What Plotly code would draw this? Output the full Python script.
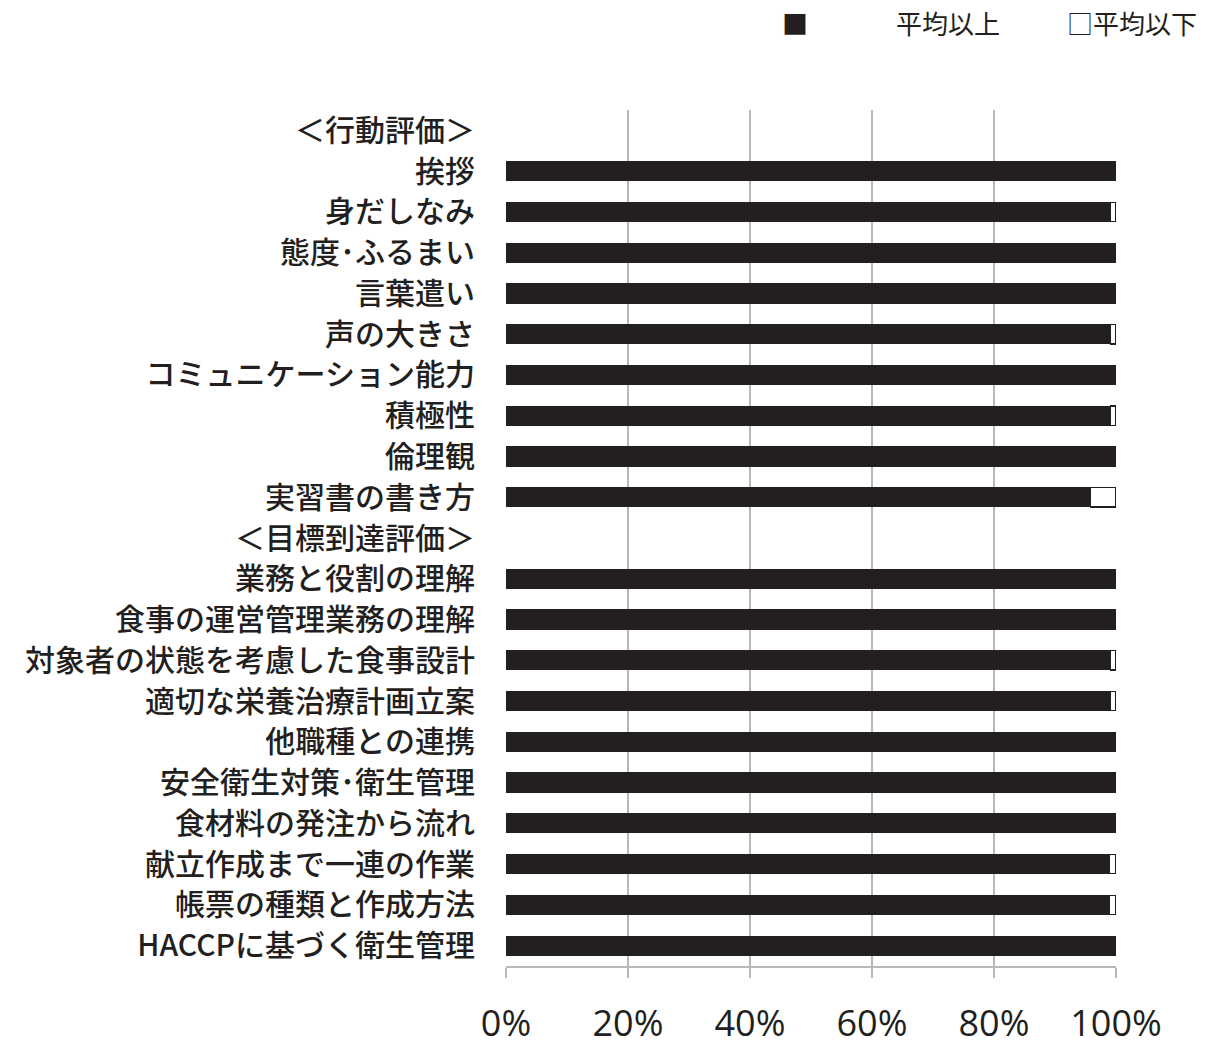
import plotly.graph_objects as go

categories = [
    "＜行動評価＞", "挨拶", "身だしなみ", "態度･ふるまい", "言葉遣い", "声の大きさ",
    "コミュニケーション能力", "積極性", "倫理観", "実習書の書き方",
    "＜目標到達評価＞", "業務と役割の理解", "食事の運営管理業務の理解",
    "対象者の状態を考慮した食事設計", "適切な栄養治療計画立案", "他職種との連携",
    "安全衛生対策･衛生管理", "食材料の発注から流れ", "献立作成まで一連の作業",
    "帳票の種類と作成方法", "HACCPに基づく衛生管理",
]
above = [None, 100, 99.1, 100, 100, 99.1, 100, 99.1, 100, 95.8,
         None, 100, 100, 99.1, 99.1, 100, 100, 100, 98.9, 98.9, 100]
below = [None, 0, 0.9, 0, 0, 0.9, 0, 0.9, 0, 4.2,
         None, 0, 0, 0.9, 0.9, 0, 0, 0, 1.1, 1.1, 0]
tick_vals = [0, 20, 40, 60, 80, 100]
tick_text = ["0%", "20%", "40%", "60%", "80%", "100%"]
legend_names = ["平均以上", "平均以下"]

fig = go.Figure()
fig.add_trace(go.Bar(
    y=categories, x=[v / 100 if v is not None else None for v in above],
    orientation="h", name=legend_names[0],
    marker=dict(color="#231f20", line=dict(color="#231f20", width=1)),
    showlegend=False,
))
fig.add_trace(go.Bar(
    y=categories, x=[(v / 100) if v else None for v in below],
    orientation="h", name=legend_names[1],
    marker=dict(color="white", line=dict(color="#231f20", width=1.5)),
    showlegend=False,
))

fig.update_layout(
    barmode="stack",
    bargap=0.53,
    width=1210, height=1047,
    margin=dict(l=506, r=94, t=110, b=81),
    paper_bgcolor="white", plot_bgcolor="white",
    font=dict(family="Noto Sans CJK JP", color="#231f20"),
    xaxis=dict(
        range=[0, 1], tickvals=[t / 100 for t in tick_vals], ticktext=tick_text,
        showgrid=True, gridcolor="#b8b8b8", gridwidth=2,
        showline=True, linecolor="#b8b8b8", linewidth=2,
        ticks="outside", ticklen=10, tickcolor="#b8b8b8", tickwidth=2,
        tickfont=dict(family="Open Sans", size=36, color="#231f20"),
        ticklabelstandoff=15, zeroline=False, automargin=False,
    ),
    yaxis=dict(
        type="category", categoryorder="array", categoryarray=categories,
        range=[20.5, -0.5], showgrid=False, showline=False, ticks="",
        tickfont=dict(family="Noto Sans CJK JP", size=30, color="#231f20",
                      weight=500),
        ticklabelstandoff=30, automargin=False,
    ),
    annotations=[
        dict(text="■", x=795, y=22, showarrow=False,
             font=dict(size=26, color="#231f20")),
        dict(text=legend_names[0], x=948, y=22, showarrow=False,
             font=dict(size=26, color="#231f20")),
        dict(text="□" + legend_names[1], x=1132, y=22, showarrow=False,
             font=dict(size=26, color="#231f20")),
    ],
)
# convert legend annotation positions from pixels to paper coords
for a in fig.layout.annotations:
    px, py = a.x, a.y
    a.xref = "paper"; a.yref = "paper"
    a.x = (px - 506) / (1210 - 506 - 94)
    a.y = 1 + (110 - py) / (1047 - 110 - 81)
    a.xanchor = "center"; a.yanchor = "middle"

fig.write_html("out.html")
